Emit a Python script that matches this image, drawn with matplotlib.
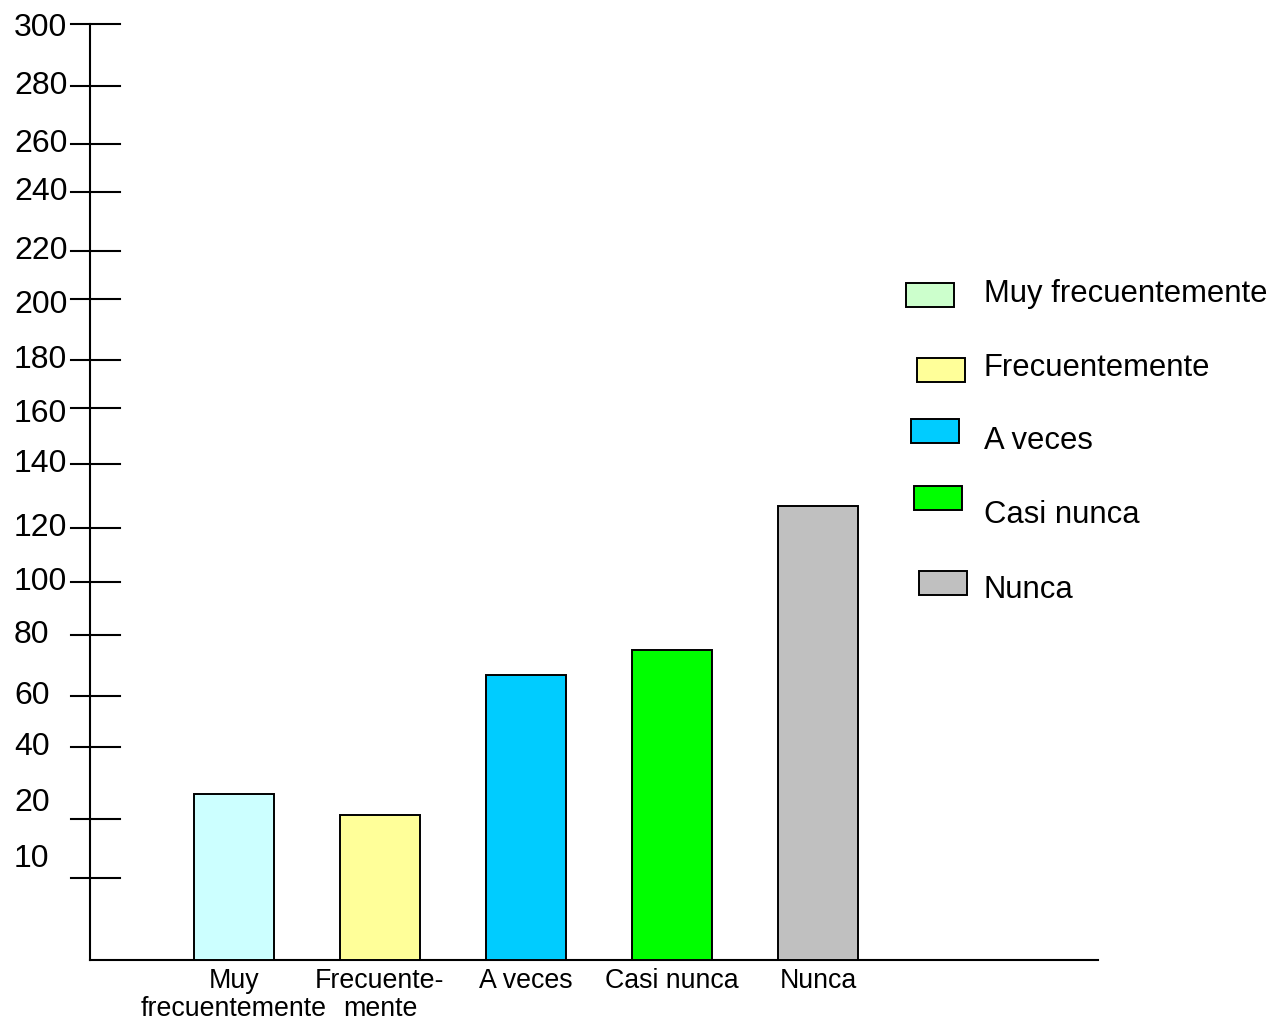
import numpy as np
import matplotlib.pyplot as plt
from matplotlib.patches import Rectangle
from matplotlib import transforms

plt.rcParams['font.family'] = ['Liberation Sans', 'DejaVu Sans']

# data
categories = ['Muy\nfrecuentemente', 'Frecuente-\nmente', 'A veces', 'Casi nunca', 'Nunca']
values = [27, 21, 67, 75, 127]
bar_colors = ['#CCFFFF', '#FFFF99', '#00CCFF', '#00FF00', '#C0C0C0']

legend_labels = ['Muy frecuentemente', 'Frecuentemente', 'A veces', 'Casi nunca', 'Nunca']
legend_colors = ['#CCFFCC', '#FFFF99', '#00CCFF', '#00FF00', '#C0C0C0']

tick_values = [0, 10, 20, 40, 60, 80, 100, 120, 140, 160, 180, 200, 220, 240, 260, 280, 300]
# the hand-drawn axis is not evenly spaced: pixel height of every tick above the baseline
tick_heights = [0, 82, 141, 213, 264, 325, 378, 432, 496, 552, 600, 661, 709, 768, 816, 874, 936]
label_nudge = {20: 11.5, 10: 13.5, 300: -3, 200: -4, 160: -4}   # points


def forward(v):
    return np.interp(v, tick_values, tick_heights)


def inverse(h):
    return np.interp(h, tick_heights, tick_values)


W, H = 1278, 1023
fig = plt.figure(figsize=(W / 100, H / 100), dpi=100)
ax = fig.add_axes([90 / W, 1 - 960 / H, 1008 / W, 936 / H])

ax.set_yscale('function', functions=(forward, inverse))
ax.set_ylim(0, 300)

x = np.arange(len(categories))
ax.bar(x, values, width=0.55, color=bar_colors, edgecolor='black', linewidth=1.4, zorder=3)
ax.set_xlim(-0.986, 5.918)

for side in ['top', 'right']:
    ax.spines[side].set_visible(False)
for side in ['left', 'bottom']:
    ax.spines[side].set_linewidth(1.5)

ax.set_xticks(x)
ax.set_xticklabels(categories, fontsize=19.3, linespacing=1.1)
ax.tick_params(axis='x', length=0, pad=6)

# y ticks drawn by hand: asymmetric marks and left-aligned labels
ax.set_yticks([])
trans = transforms.blended_transform_factory(ax.transAxes, ax.transData)
for v in tick_values[1:]:
    ax.plot([-0.019, 0.030], [v, v], color='black', lw=1.5, transform=trans, clip_on=False)
    ax.annotate(str(v), xy=(-76 / 1008, v), xycoords=trans,
                xytext=(0, label_nudge.get(v, 0)), textcoords='offset points',
                ha='left', va='center', fontsize=23)

# legend, drawn as loose swatches like the original
sw_left = [906, 917, 911, 914, 919]
sw_top = [283, 358, 419, 486, 571]
txt_y = [294, 368, 441, 515, 590]
for i, (lab, col) in enumerate(zip(legend_labels, legend_colors)):
    fig.patches.append(Rectangle((sw_left[i] / W, 1 - (sw_top[i] + 24) / H), 48 / W, 24 / H,
                                 transform=fig.transFigure, facecolor=col,
                                 edgecolor='black', linewidth=1.4))
    fig.text(984 / W, 1 - txt_y[i] / H, lab, fontsize=22.3, va='center', ha='left')

fig.savefig('out.png', dpi=100)
